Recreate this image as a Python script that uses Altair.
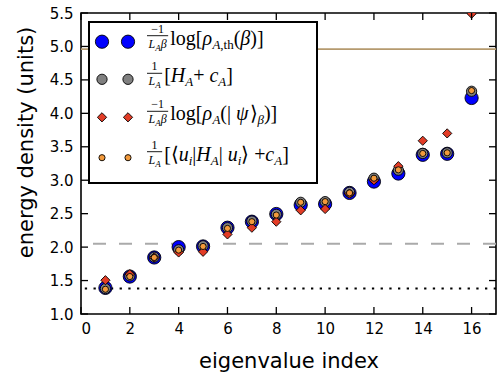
import altair as alt
import pandas as pd

# ---- data -------------------------------------------------------------
eigen_index = list(range(1, 17))
thermal = [1.39, 1.56, 1.845, 2.00, 2.01, 2.29, 2.38, 2.495, 2.63, 2.645,
           2.81, 2.98, 3.10, 3.38, 3.395, 4.23]
hamiltonian = [1.38, 1.57, 1.85, 1.96, 2.02, 2.29, 2.39, 2.49, 2.67, 2.68,
               2.82, 3.03, 3.15, 3.40, 3.41, 4.33]
pure_state = [1.505, 1.595, 1.845, 1.92, 1.93, 2.19, 2.29, 2.38, 2.55, 2.57,
              2.80, 3.00, 3.21, 3.59, 3.70, 5.49]
diag_expect = [1.37, 1.56, 1.845, 1.955, 2.01, 2.28, 2.38, 2.48, 2.67, 2.68,
               2.81, 3.03, 3.155, 3.40, 3.41, 4.34]

reference_levels = [1.38, 2.05, 4.96]
x_ticks = list(range(0, 17, 2))
y_ticks = [1.0, 1.5, 2.0, 2.5, 3.0, 3.5, 4.0, 4.5, 5.0, 5.5]

# ---- layout -------------------------------------------------------------
W, H = 415, 301
TICK = 7
xs = alt.Scale(domain=[0, 17], nice=False, zero=False)
ys = alt.Scale(domain=[1.0, 5.5], nice=False, zero=False)

# one axis definition shared by every layer so that they merge
XAX = alt.Axis(values=x_ticks, title="eigenvalue index", format="d",
               labelPadding=7, titleY=53, titleBaseline="alphabetic")
YAX = alt.Axis(values=y_ticks, title="energy density (units)",
               format=".1f", labelPadding=8, titleX=-55, titleY=129,
               titleAlign="center", titleBaseline="middle")

# series styles: (values, shape, size, fill)
series = [
    (thermal, "circle", 175, "#0000ff"),
    (hamiltonian, "circle", 105, "#808080"),
    (pure_state, "diamond", 85, "#e23c26"),
    (diag_expect, "circle", 38, "#f39a3c"),
]

NB = "\u00a0"  # non-collapsing space inside label pieces

# legend labels: fraction numerator, denominator, main text
# segment kinds: r roman, i italic, sr/si subscript roman/italic
legend_labels = [
    ([("\u22121", "r")], [("L", "i"), ("A", "si"), ("\u03b2", "i")],
     [("log[", "r"), ("\u03c1", "i"), ("A", "si"), (",th", "sr"),
      ("(", "r"), ("\u03b2", "i"), (")]", "r")]),
    ([("1", "r")], [("L", "i"), ("A", "si")],
     [("[", "r"), ("H", "i"), ("A", "si"), (NB + "+", "r"), ("c", "i"),
      ("A", "si"), ("]", "r")]),
    ([("\u22121", "r")], [("L", "i"), ("A", "si"), ("\u03b2", "i")],
     [("log[", "r"), ("\u03c1", "i"), ("A", "si"), (NB + "(|", "r"),
      ("\u03c8", "i"), ("\u27e9", "r"), ("\u03b2", "si"), (")]", "r")]),
    ([("1", "r")], [("L", "i"), ("A", "si")],
     [("[\u27e8", "r"), ("u", "i"), ("i", "si"), ("|", "r"), ("H", "i"),
      ("A", "si"), (NB + "|", "r"), ("u", "i"), ("i", "si"),
      ("\u27e9" + NB + "+", "r"), ("c", "i"), ("A", "si"), ("]", "r")]),
]

# approximate glyph advance widths (em) for the serif face
GLYPH = {"[": .333, "]": .333, "(": .333, ")": .333, "l": .278, ",": .25,
         "t": .278, NB: .25, "+": .564, "|": .2, "\u2212": .564,
         "\u27e8": .39, "\u27e9": .39, "L": .556, "A": .611, "H": .722,
         "c": .444, "i": .278, "\u03c8": .68}


def text_width(segs, size, sub):
    w = 0.0
    for txt, kind in segs:
        fs = sub if kind.startswith("s") else size
        w += sum(GLYPH.get(ch, 0.5) for ch in txt) * fs
    return w


def place(segs, x0, base, size, sub, drop, rows):
    x = x0
    for txt, kind in segs:
        is_sub = kind.startswith("s")
        fs = sub if is_sub else size
        rows.append({"text": txt, "px": x, "py": base + (drop if is_sub else 0),
                     "fs": fs, "ital": kind.endswith("i")})
        x += sum(GLYPH.get(ch, 0.5) for ch in txt) * fs


box = (8, 9, 236, 170)
marker_x = [21, 47]
entry_y = [28.7, 66.3, 104.3, 144.7]
label_x = 66
F_SIZE, F_SUB = 12, 9
M_SIZE, M_SUB = 20, 13

text_rows, bar_rows = [], []
for (num, den, main), yc in zip(legend_labels, entry_y):
    nw = text_width(num, F_SIZE, F_SUB)
    dw = text_width(den, F_SIZE, F_SUB)
    fw = max(nw, dw) + 3
    bar_y = yc - 6
    bar_rows.append({"x0": label_x, "x1": label_x + fw, "yb": bar_y})
    place(num, label_x + (fw - nw) / 2, bar_y - 3, F_SIZE, F_SUB, 3, text_rows)
    place(den, label_x + (fw - dw) / 2, bar_y + 12, F_SIZE, F_SUB, 3, text_rows)
    place(main, label_x + fw + 2, yc + 3, M_SIZE, M_SUB, 4, text_rows)

text_df = pd.DataFrame(text_rows)

# ---- chart layers -------------------------------------------------------
layers = []

# horizontal reference levels
line_styles = [
    {"color": "black", "strokeWidth": 2, "strokeDash": [2.3, 6.4]},
    {"color": "#aaaaaa", "strokeWidth": 2, "strokeDash": [13, 13]},
    {"color": "#b59a6e", "strokeWidth": 1.8},
]
for lvl, style in zip(reference_levels, line_styles):
    layers.append(
        alt.Chart(pd.DataFrame({"level": [lvl]})).mark_rule(**style).encode(
            y=alt.Y("level:Q", scale=ys, axis=YAX)
        )
    )

# data points
for vals, shape, size, fill in series:
    df = pd.DataFrame({"index": eigen_index, "value": vals})
    layers.append(
        alt.Chart(df).mark_point(shape=shape, size=size, filled=True,
                                 fill=fill, stroke="black", strokeWidth=0.9,
                                 opacity=1, clip=True).encode(
            x=alt.X("index:Q", scale=xs, axis=XAX),
            y=alt.Y("value:Q", scale=ys, axis=YAX),
        )
    )

# inward ticks on all four sides
xt = pd.DataFrame({"t": x_ticks})
yt = pd.DataFrame({"t": y_ticks})
tick_style = {"color": "black", "strokeWidth": 1.3}
layers.append(alt.Chart(xt).mark_rule(**tick_style).encode(
    x=alt.X("t:Q", scale=xs, axis=XAX), y=alt.value(H), y2=alt.value(H - TICK)))
layers.append(alt.Chart(xt).mark_rule(**tick_style).encode(
    x=alt.X("t:Q", scale=xs, axis=XAX), y=alt.value(0), y2=alt.value(TICK)))
layers.append(alt.Chart(yt).mark_rule(**tick_style).encode(
    y=alt.Y("t:Q", scale=ys, axis=YAX), x=alt.value(0), x2=alt.value(TICK)))
layers.append(alt.Chart(yt).mark_rule(**tick_style).encode(
    y=alt.Y("t:Q", scale=ys, axis=YAX), x=alt.value(W), x2=alt.value(W - TICK)))

# legend frame
layers.append(
    alt.Chart(pd.DataFrame({"a": [0]})).mark_rect(
        fill="white", stroke="black", strokeWidth=2).encode(
        x=alt.value(box[0]), x2=alt.value(box[2]),
        y=alt.value(box[1]), y2=alt.value(box[3]))
)

# legend symbols, two per entry
for (vals, shape, size, fill), yc in zip(series, entry_y):
    mdf = pd.DataFrame({"px": marker_x, "py": [yc, yc]})
    layers.append(
        alt.Chart(mdf).mark_point(shape=shape, size=size, filled=True,
                                  fill=fill, stroke="black", strokeWidth=0.9,
                                  opacity=1).encode(
            x=alt.X("px:Q", scale=None), y=alt.Y("py:Q", scale=None))
    )

# fraction bars
layers.append(
    alt.Chart(pd.DataFrame(bar_rows)).mark_rule(color="black", strokeWidth=0.9).encode(
        x=alt.X("x0:Q", scale=None), x2="x1:Q", y=alt.Y("yb:Q", scale=None))
)

# legend text
for ital in (False, True):
    sub = text_df[text_df["ital"] == ital]
    layers.append(
        alt.Chart(sub).mark_text(
            align="left", baseline="alphabetic", font="Liberation Serif",
            fontStyle="italic" if ital else "normal", color="black").encode(
            x=alt.X("px:Q", scale=None), y=alt.Y("py:Q", scale=None),
            text="text:N", size=alt.Size("fs:Q", scale=None, legend=None))
    )

chart = alt.layer(*layers).properties(
    width=W, height=H,
    padding={"left": 81, "top": 13, "right": 8, "bottom": 62},
    autosize=alt.AutoSizeParams(type="none"),
    background="white",
).configure_view(
    stroke="black", strokeWidth=1.6
).configure_axis(
    domain=False, ticks=False, grid=False,
    labelFont="DejaVu Sans", labelFontSize=15, labelColor="black",
    titleFont="DejaVu Sans", titleFontSize=21, titleFontWeight="normal",
    titleColor="black",
)

chart.save("out.html", embed_options={"renderer": "svg", "actions": False})
